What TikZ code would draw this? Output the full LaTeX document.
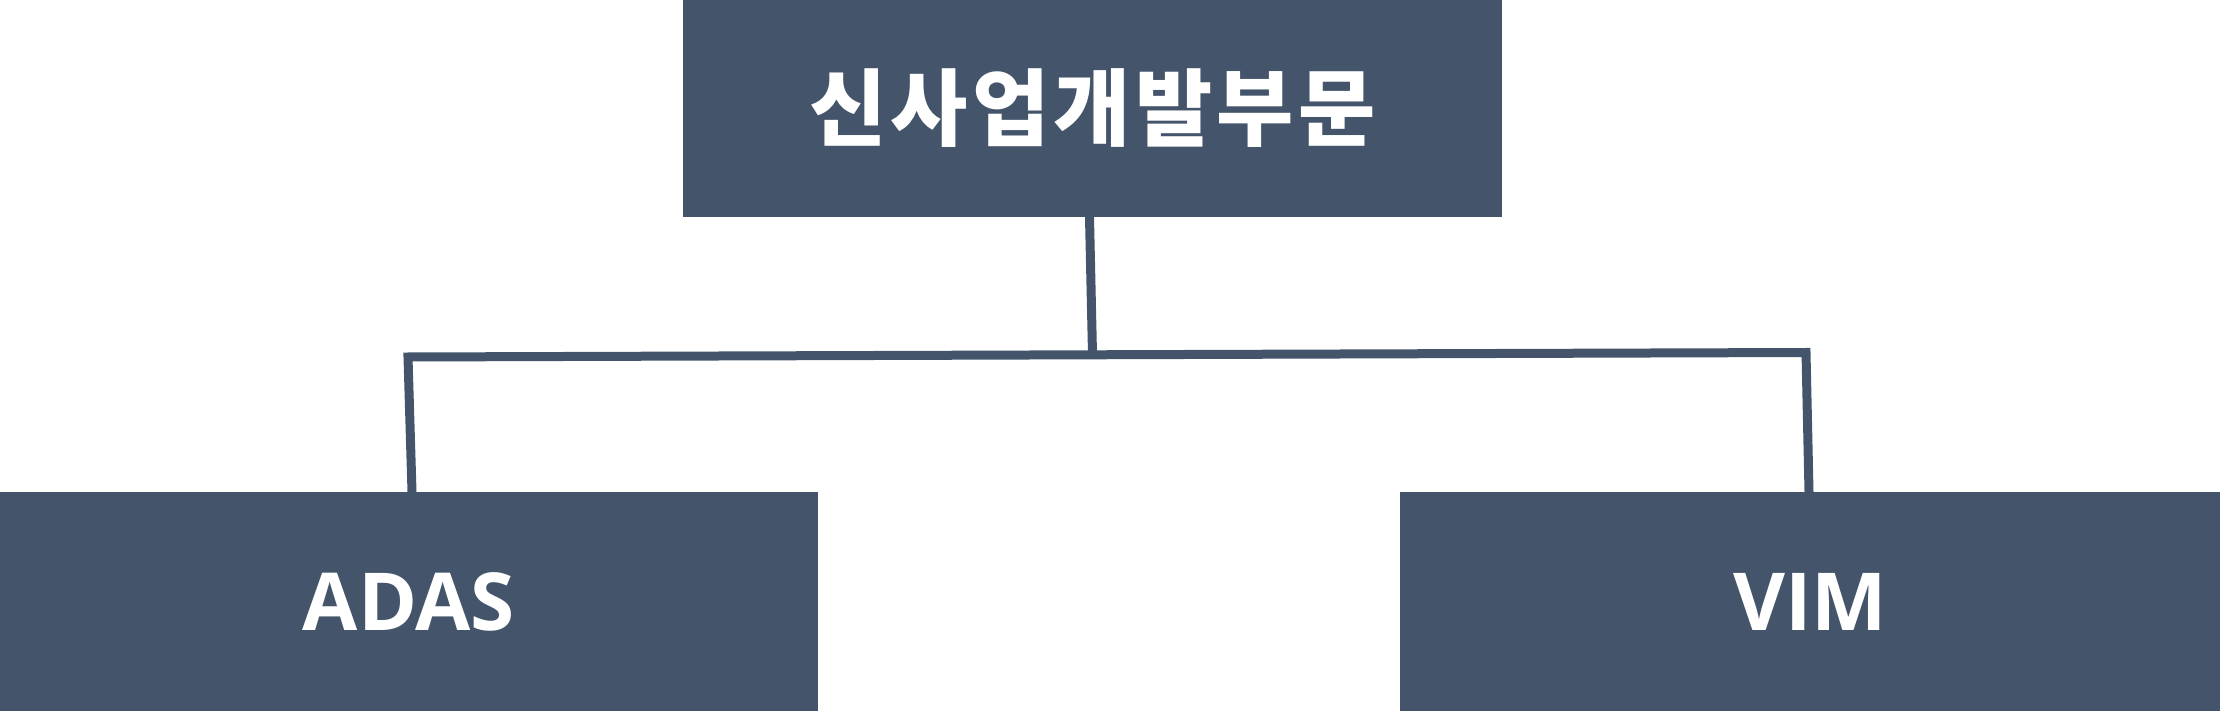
\documentclass[tikz,border=0pt]{standalone}
\usepackage{fontspec}
\setmainfont{Open Sans}
\newfontfamily\krfont[LetterSpace=5]{Noto Sans CJK KR}
\definecolor{boxblue}{HTML}{44546A}
\begin{document}
\begin{tikzpicture}[x=1pt,y=-1pt,
  orgbox/.style={fill=boxblue,draw=none,text=white,inner sep=0pt,outer sep=0pt},
  link/.style={draw=boxblue,line width=9pt,line join=miter}]
\useasboundingbox (0,0) rectangle (2220,711);
\node[orgbox,minimum width=819pt,minimum height=217pt] (top) at (1092.5,108.5)
  {\krfont\bfseries\fontsize{84}{90}\selectfont 신사업개발부문};
\node[orgbox,minimum width=818pt,minimum height=219pt] (adas) at (409,601.5)
  {\bfseries\fontsize{80}{90}\selectfont ADAS};
\node[orgbox,minimum width=820pt,minimum height=219pt] (vim) at (1810,601.5)
  {\bfseries\fontsize{80}{90}\selectfont VIM};
\coordinate (jl) at (408,357);
\coordinate (jm) at (1092.5,354.5);
\coordinate (jr) at (1806,352.5);
\draw[link] ([xshift=-3pt]top.south) -- (jm);
\draw[link] ([xshift=3pt]adas.north) -- (jl) -- (jr) -- ([xshift=-1pt]vim.north);
\end{tikzpicture}
\end{document}
